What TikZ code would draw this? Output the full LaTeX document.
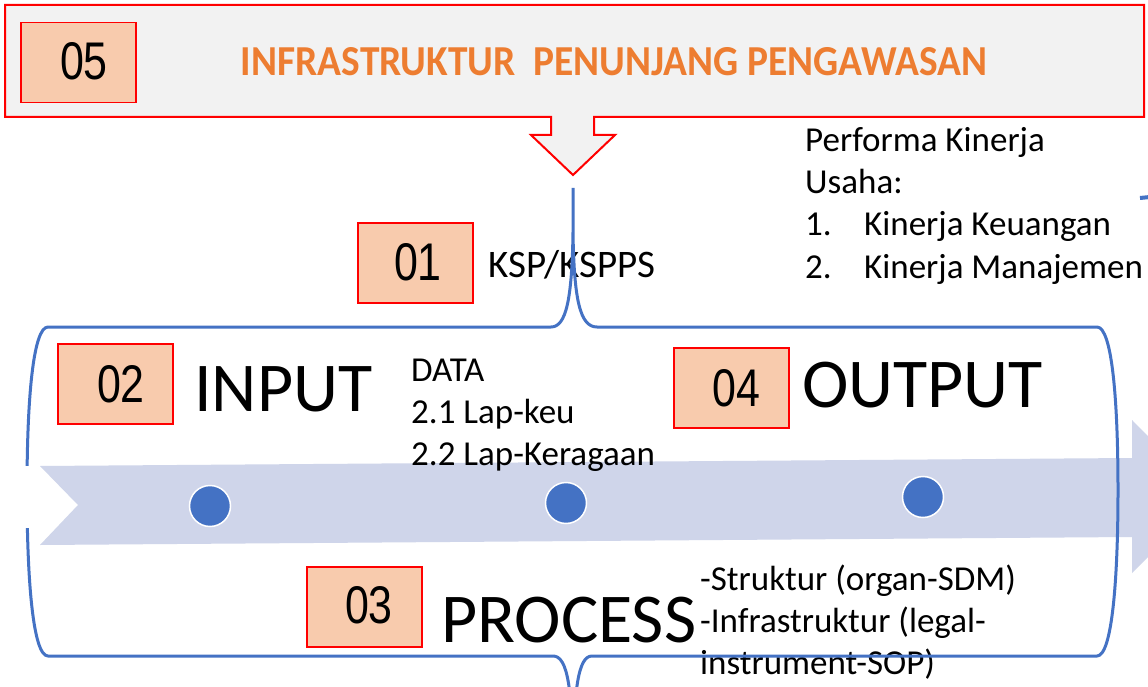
\documentclass[tikz,border=0pt]{standalone}
\usepackage{fontspec}
\setmainfont{Carlito}
\newfontfamily\numfont{Liberation Sans}
\definecolor{boxred}{HTML}{FF0000}
\definecolor{boxfill}{HTML}{F8CBAD}
\definecolor{bannerfill}{HTML}{F2F2F2}
\definecolor{titleorange}{HTML}{ED7D31}
\definecolor{lineblue}{HTML}{4472C4}
\definecolor{bandfill}{HTML}{CFD5EA}
\begin{document}
\begin{tikzpicture}[x=1pt,y=-1pt,
  numbox/.style={draw=boxred, fill=boxfill, line width=1.5pt, minimum width=115pt, minimum height=80pt, inner sep=0pt, anchor=north west},
  digits/.style={anchor=base, inner sep=0pt, font=\numfont\fontsize{53}{60}\selectfont},
  txt/.style={anchor=base west, inner sep=0pt, font=\fontsize{35}{42}\selectfont},
  bigtxt/.style={anchor=base west, inner sep=0pt, font=\fontsize{70}{80}\selectfont},
  dot/.style={circle, fill=lineblue, draw=white, line width=1.5pt, minimum size=41pt, inner sep=0pt},
  brace/.style={draw=lineblue, line width=3pt, line join=round}
]
\useasboundingbox (0,0) rectangle (1148,687);
\clip (0,0) rectangle (1148,687);
\fill[white] (0,0) rectangle (1148,687);

% banner callout
\draw[draw=boxred, fill=bannerfill, line width=2pt, line join=miter]
  (5,5) -- (1144,5) -- (1144,117) -- (594,117) -- (594,135) -- (615,135)
  -- (573,175) -- (531,135) -- (551,135) -- (551,117) -- (5,117) -- cycle;
\node[numbox] (b05) at (20,22) {};
\node[digits] (d05) at (84,80) {\scalebox{0.81}[1]{05}};
\node[anchor=base, inner sep=0pt, text=titleorange] (title) at (614,76)
  {\resizebox{746pt}{28pt}{\bfseries INFRASTRUKTUR\ \ PENUNJANG PENGAWASAN}};

% band arrow
\fill[bandfill] (40,466) -- (1132,458) -- (1132,420) -- (1208,497)
  -- (1132,573) -- (1132,537) -- (40,545) -- (78,505) -- cycle;

% texts
\node[txt, font=\fontsize{39}{46}\selectfont] (ksp) at (488,277) {KSP/KSPPS};
\node[bigtxt] (input) at (194,411) {INPUT};
\node[bigtxt] (output) at (802,407) {OUTPUT};
\node[bigtxt] (process) at (441,642) {PROCESS};
\node[txt] (data1) at (411,381) {DATA};
\node[txt] (data2) at (411,423) {2.1 Lap-keu};
\node[txt] (data3) at (411,465) {2.2 Lap-Keragaan};
\node[txt] (perf1) at (805,152) {Performa Kinerja};
\node[txt] (perf2) at (805,194) {Usaha:};
\node[txt] (perf3) at (805,236) {1.};
\node[txt] (perf3b) at (864,236) {Kinerja Keuangan};
\node[txt] (perf4) at (805,278) {2.};
\node[txt] (perf4b) at (864,278) {Kinerja Manajemen};
\node[txt] (proc1) at (700,590) {-Struktur (organ-SDM)};
\node[txt] (proc2) at (700,632) {-Infrastruktur (legal-};
\node[txt] (proc3) at (700,674) {instrument-SOP)};

% number boxes
\node[numbox] (b01) at (357,222) {};
\node[digits] (d01) at (418,280) {\scalebox{0.81}[1]{01}};
\node[numbox] (b02) at (57,343) {};
\node[digits] (d02) at (121,402) {\scalebox{0.81}[1]{02}};
\node[numbox] (b04) at (673,347) {};
\node[digits] (d04) at (736,406) {\scalebox{0.81}[1]{04}};
\node[numbox] (b03) at (306,566) {};
\node[digits] (d03) at (369,623) {\scalebox{0.81}[1]{03}};

% container with braces
\draw[brace] (573,188) -- (573,232)
  .. controls (574,300) and (580,327) .. (597,327) -- (1097,327)
  .. controls (1112,327) and (1118,400) .. (1118,490)
  .. controls (1118,580) and (1112,656) .. (1097,656) -- (592,656)
  .. controls (578,656) and (574,690) .. (573,760)
  .. controls (572,690) and (568,656) .. (553,656) -- (48,656)
  .. controls (33,656) and (27,580) .. (27,490)
  .. controls (27,400) and (33,327) .. (48,327) -- (551,327)
  .. controls (566,327) and (572,300) .. (573,232);
\fill[white] (17,466) rectangle (39,528);

% dots
\node[dot] (c1) at (210,506) {};
\node[dot] (c2) at (566,503) {};
\node[dot] (c3) at (923,497) {};

% arrow stub at top right
\draw[lineblue, line width=4pt] (1140,198) -- (1150,197);
\end{tikzpicture}
\end{document}
